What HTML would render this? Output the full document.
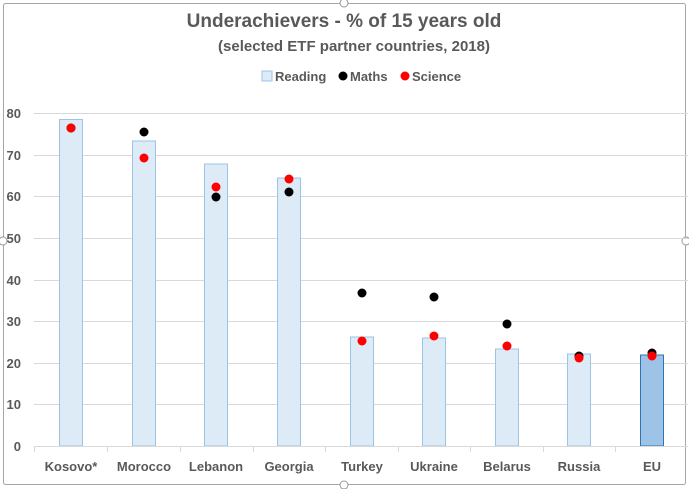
<!DOCTYPE html>
<html><head><meta charset="utf-8"><style>
body{margin:0;background:#fff;}
svg{display:block;font-family:"Liberation Sans",Arial,sans-serif;font-weight:bold;}
</style></head><body>
<svg width="689" height="489" viewBox="0 0 689 489">
<rect x="3.5" y="3.5" width="682" height="481" rx="2" fill="#fff" stroke="#a6a6a6" stroke-width="1"/>
<circle cx="344" cy="3" r="4" fill="#fff" stroke="#999"/>
<circle cx="344" cy="485" r="4" fill="#fff" stroke="#999"/>
<circle cx="3" cy="241" r="4" fill="#fff" stroke="#999"/>
<circle cx="686" cy="241" r="4" fill="#fff" stroke="#999"/>
<text x="344" y="27" text-anchor="middle" font-size="19" fill="#595959">Underachievers - % of 15 years old</text>
<text x="354" y="51" text-anchor="middle" font-size="14.5" fill="#595959" textLength="272" lengthAdjust="spacingAndGlyphs">(selected ETF partner countries, 2018)</text>
<g font-size="13" fill="#595959">
<rect x="262" y="71" width="10" height="10" fill="#ddebf7" stroke="#9dc3e6"/>
<text x="275" y="81">Reading</text>
<circle cx="343" cy="76" r="4.5" fill="#000"/>
<text x="350" y="81">Maths</text>
<circle cx="405" cy="76" r="4.5" fill="#f00"/>
<text x="412" y="81">Science</text>
</g>
<g stroke="#d9d9d9" stroke-width="1">
<line x1="34" x2="688" y1="113.5" y2="113.5"/>
<line x1="34" x2="688" y1="155.5" y2="155.5"/>
<line x1="34" x2="688" y1="196.5" y2="196.5"/>
<line x1="34" x2="688" y1="238.5" y2="238.5"/>
<line x1="34" x2="688" y1="280.5" y2="280.5"/>
<line x1="34" x2="688" y1="321.5" y2="321.5"/>
<line x1="34" x2="688" y1="363.5" y2="363.5"/>
<line x1="34" x2="688" y1="404.5" y2="404.5"/>
</g>
<g font-size="13" fill="#595959" text-anchor="end">
<text x="21" y="118">80</text><text x="21" y="160">70</text><text x="21" y="201">60</text><text x="21" y="243">50</text>
<text x="21" y="285">40</text><text x="21" y="326">30</text><text x="21" y="368">20</text><text x="21" y="409">10</text><text x="21" y="451">0</text>
</g>
<g fill="#ddebf7" stroke="#9dc3e6" stroke-width="1">
<rect x="59.5" y="119.5" width="23" height="326.5"/>
<rect x="132.5" y="141" width="23" height="305"/>
<rect x="204.5" y="164" width="23" height="282"/>
<rect x="277.5" y="178" width="23" height="268"/>
<rect x="350.5" y="337" width="23" height="109"/>
<rect x="422.5" y="338" width="23" height="108"/>
<rect x="495.5" y="349" width="23" height="97"/>
<rect x="567.5" y="354" width="23" height="92"/>
<rect x="640.5" y="355" width="23" height="91" fill="#9dc3e6" stroke="#2e75b6"/>
</g>
<line x1="34" x2="688" y1="446.5" y2="446.5" stroke="#d9d9d9"/>
<g stroke="#d9d9d9">
<line x1="34.5" x2="34.5" y1="446" y2="452"/><line x1="107.5" x2="107.5" y1="446" y2="452"/>
<line x1="180.5" x2="180.5" y1="446" y2="452"/><line x1="253.5" x2="253.5" y1="446" y2="452"/>
<line x1="325.5" x2="325.5" y1="446" y2="452"/><line x1="398.5" x2="398.5" y1="446" y2="452"/>
<line x1="470.5" x2="470.5" y1="446" y2="452"/><line x1="543.5" x2="543.5" y1="446" y2="452"/>
<line x1="615.5" x2="615.5" y1="446" y2="452"/>
</g>
<g fill="#000">
<circle cx="71" cy="128" r="4.5"/><circle cx="144" cy="132" r="4.5"/><circle cx="216" cy="197" r="4.5"/>
<circle cx="289" cy="192" r="4.5"/><circle cx="362" cy="293" r="4.5"/><circle cx="434" cy="297" r="4.5"/>
<circle cx="507" cy="324" r="4.5"/><circle cx="579" cy="356" r="4.5"/><circle cx="652" cy="353" r="4.5"/>
</g>
<g fill="#f00">
<circle cx="71" cy="128" r="4.5"/><circle cx="144" cy="158" r="4.5"/><circle cx="216" cy="187" r="4.5"/>
<circle cx="289" cy="179" r="4.5"/><circle cx="362" cy="341" r="4.5"/><circle cx="434" cy="336" r="4.5"/>
<circle cx="507" cy="346" r="4.5"/><circle cx="579" cy="358" r="4.5"/><circle cx="652" cy="356" r="4.5"/>
</g>
<g font-size="13" fill="#595959" text-anchor="middle">
<text x="71" y="471">Kosovo*</text><text x="144" y="471">Morocco</text><text x="216" y="471">Lebanon</text>
<text x="289" y="471">Georgia</text><text x="362" y="471">Turkey</text><text x="434" y="471">Ukraine</text>
<text x="507" y="471">Belarus</text><text x="579" y="471">Russia</text><text x="652" y="471">EU</text>
</g>
</svg>
</body></html>
